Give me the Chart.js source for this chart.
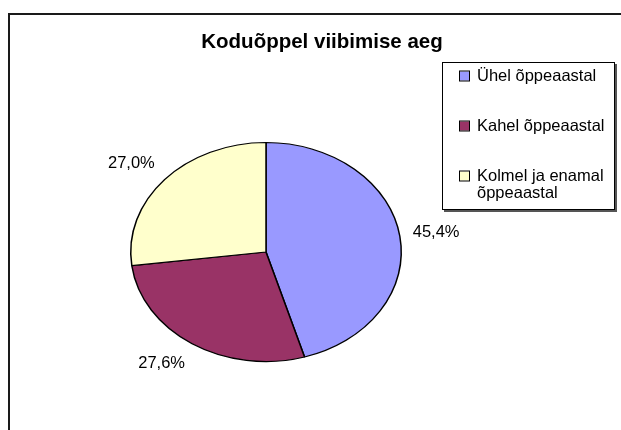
<!DOCTYPE html>
<html lang="et">
<head>
    <meta charset="UTF-8">
    <title>Koduõppel viibimise aeg</title>
    <script src="https://cdn.jsdelivr.net/npm/chart.js@4.4.0/dist/chart.umd.min.js"></script>
    <style>
        body {
            margin: 0;
            background-color: #ffffff;
        }
        #wrap {
            position: relative;
            width: 621px;
            height: 430px;
        }
    </style>
</head>
<body>
    <div id="wrap">
        <canvas id="pieChart" width="621" height="430"></canvas>
    </div>

    <script>
        // Chart data
        const chartTitle = 'Koduõppel viibimise aeg';
        const categories = ['Ühel õppeaastal', 'Kahel õppeaastal', ['Kolmel ja enamal', 'õppeaastal']];
        const shares = [45.4, 27.6, 27.0];
        const sliceColors = ['#9999FF', '#993366', '#FFFFCC'];

        const fontFamily = '"Liberation Sans", Arial, sans-serif';
        const ellipseRatio = 109.5 / 135.25; // pie is drawn flattened like the original

        // Squash the pie vertically around its centre
        const ellipsePlugin = {
            id: 'ellipse',
            beforeDatasetsDraw(chart) {
                const arc = chart.getDatasetMeta(0).data[0];
                const ctx = chart.ctx;
                ctx.save();
                ctx.translate(arc.x, arc.y);
                ctx.scale(1, ellipseRatio);
                ctx.translate(-arc.x, -arc.y);
            },
            afterDatasetsDraw(chart) {
                chart.ctx.restore();
            }
        };

        // Frame, title, legend box and percentage labels
        const decorPlugin = {
            id: 'decor',
            beforeDraw(chart) {
                const ctx = chart.ctx;
                ctx.save();
                ctx.fillStyle = '#ffffff';
                ctx.fillRect(0, 0, chart.width, chart.height);
                ctx.strokeStyle = '#1a1a1a';
                ctx.lineWidth = 2;
                ctx.beginPath();
                ctx.moveTo(9, chart.height + 5);
                ctx.lineTo(9, 14);
                ctx.lineTo(chart.width + 5, 14);
                ctx.stroke();
                ctx.restore();
            },
            afterDraw(chart) {
                const ctx = chart.ctx;
                const meta = chart.getDatasetMeta(0);
                ctx.save();

                // title
                ctx.fillStyle = '#000000';
                ctx.font = 'bold 20.5px ' + fontFamily;
                ctx.textAlign = 'center';
                ctx.textBaseline = 'middle';
                ctx.fillText(chartTitle, 322, 42);

                // value labels outside the slices
                ctx.font = '16.5px ' + fontFamily;
                meta.data.forEach((arc, i) => {
                    const mid = (arc.startAngle + arc.endAngle) / 2;
                    const r = arc.outerRadius;
                    const ex = arc.x + Math.cos(mid) * r;
                    const ey = arc.y + Math.sin(mid) * r * ellipseRatio;
                    const text = shares[i].toFixed(1).replace('.', ',') + '%';
                    const hw = ctx.measureText(text).width / 2;
                    const gap = 13;
                    const lx = ex + Math.cos(mid) * gap + Math.sign(Math.cos(mid)) * hw;
                    const ly = ey + Math.sin(mid) * (gap + 11);
                    ctx.fillText(text, lx, ly);
                });

                // legend box with shadow
                const box = { x: 442, y: 62, w: 173, h: 148 };
                ctx.fillStyle = '#555555';
                ctx.fillRect(box.x + 2, box.y + 2, box.w, box.h);
                ctx.fillStyle = '#ffffff';
                ctx.fillRect(box.x, box.y, box.w, box.h);
                ctx.strokeStyle = '#000000';
                ctx.lineWidth = 1;
                ctx.strokeRect(box.x + 0.5, box.y + 0.5, box.w - 1, box.h - 1);

                ctx.textAlign = 'left';
                ctx.font = '16.5px ' + fontFamily;
                categories.forEach((label, i) => {
                    const cy = 76 + i * 50;
                    ctx.fillStyle = sliceColors[i];
                    ctx.fillRect(460, cy - 4.5, 9, 9);
                    ctx.strokeStyle = '#000000';
                    ctx.strokeRect(459.5, cy - 5, 10, 10);
                    ctx.fillStyle = '#000000';
                    const lines = Array.isArray(label) ? label : [label];
                    lines.forEach((line, j) => {
                        ctx.fillText(line, 477, cy + j * 17);
                    });
                });

                ctx.restore();
            }
        };

        const ctx = document.getElementById('pieChart').getContext('2d');
        const pieChart = new Chart(ctx, {
            type: 'pie',
            data: {
                labels: categories,
                datasets: [{
                    data: shares,
                    backgroundColor: sliceColors,
                    borderColor: '#000000',
                    borderWidth: 1.5
                }]
            },
            options: {
                responsive: false,
                animation: false,
                layout: {
                    padding: { left: 130, right: 219, top: 116, bottom: 42 }
                },
                plugins: {
                    legend: { display: false },
                    title: { display: false },
                    tooltip: { enabled: false }
                }
            },
            plugins: [ellipsePlugin, decorPlugin]
        });
    </script>
</body>
</html>
